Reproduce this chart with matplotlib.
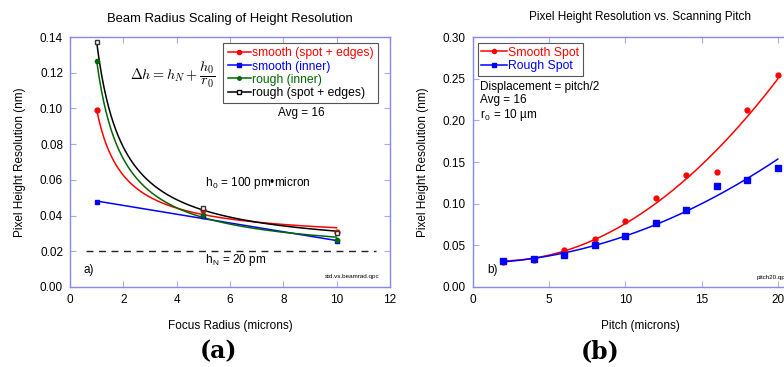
import numpy as np
import matplotlib
matplotlib.use("Agg")
import matplotlib.pyplot as plt

plt.rcParams['font.family'] = ['Liberation Sans', 'DejaVu Sans']
plt.rcParams['mathtext.fontset'] = 'cm'

# --- panel (a): beam radius scaling ---
radius = [1, 5, 10]
smooth_spot = [0.099, 0.043, 0.031]
smooth_inner = [0.0475, 0.0395, 0.0255]
rough_inner = [0.1265, 0.0405, 0.0265]
rough_spot = [0.137, 0.0445, 0.030]
h_noise = 0.02

# --- panel (b): scanning pitch ---
pitch = [2, 4, 6, 8, 10, 12, 14, 16, 18, 20]
smooth_pitch = [0.030, 0.033, 0.044, 0.058, 0.079, 0.107, 0.135, 0.138, 0.213, 0.254]
rough_pitch = [0.031, 0.034, 0.039, 0.050, 0.061, 0.077, 0.092, 0.121, 0.129, 0.143]

spine_col = '#8888ee'
tick_col = '#aaaaee'
FS = 8.5


def style_axes(ax):
    for s in ax.spines.values():
        s.set_color(spine_col)
        s.set_linewidth(1.0)
    ax.tick_params(direction='in', top=True, right=True, color=tick_col,
                   length=4, labelsize=FS, pad=5)


def inv_fit(x, y, xs):
    # curve of the form a + b/r, as in the original fit
    b, a = np.polyfit(1.0 / np.asarray(x), y, 1)
    return a + b / xs


fig = plt.figure(figsize=(7.84, 3.67), dpi=100)

# ---------------- (a) ----------------
ax1 = fig.add_axes([0.0893, 0.218, 0.408, 0.681])
style_axes(ax1)
xs = np.linspace(1, 10, 200)

ax1.axhline(h_noise, xmin=0.05, xmax=0.958, color='#222222', ls=(0, (5, 4)), lw=1)

ax1.plot(xs, inv_fit(radius, smooth_spot, xs), color='red', lw=1.1)
ax1.plot(xs, np.polyval(np.polyfit(radius, smooth_inner, 1), xs), color='blue', lw=1.1)
ax1.plot(xs, inv_fit(radius, rough_inner, xs), color='#006600', lw=1.1)
ax1.plot(xs, inv_fit(radius, rough_spot, xs), color='black', lw=1.1)

ax1.plot(radius, smooth_spot, 'o', color='red', ms=3.5, ls='none')
ax1.plot(radius, smooth_inner, 's', color='blue', ms=3.5, ls='none')
ax1.plot(radius, rough_inner, 'o', color='#006600', ms=3, ls='none')
ax1.plot(radius, rough_spot, 's', mfc='white', mec='#333333', ms=3.5, ls='none')

h1, = ax1.plot([], [], '-o', color='red', ms=3, lw=1.1)
h2, = ax1.plot([], [], '-s', color='blue', ms=3, lw=1.1)
h3, = ax1.plot([], [], '-o', color='#006600', ms=2.5, lw=1.1)
h4, = ax1.plot([], [], '-s', color='black', mfc='white', ms=3, lw=1.1)
leg = ax1.legend([h1, h2, h3, h4],
                 ['smooth (spot + edges)', 'smooth (inner)', 'rough (inner)', 'rough (spot + edges)'],
                 loc='upper right', bbox_to_anchor=(0.962, 0.976), fontsize=FS + 0.2,
                 handlelength=1.9, handletextpad=0.1, labelspacing=0.1, borderpad=0.35,
                 fancybox=False, framealpha=1, edgecolor='#555555', borderaxespad=0.0)
leg.get_frame().set_linewidth(0.8)
for t, c in zip(leg.get_texts(), ['red', 'blue', '#006600', 'black']):
    t.set_color(c)

ax1.text(2.25, 0.1187, r'$\Delta h = h_N + \dfrac{h_0}{r_0}$', fontsize=10.3, va='center')
ax1.text(7.8, 0.0975, 'Avg = 16', fontsize=FS, va='center')
ax1.text(5.06, 0.0585, r'h$_{\mathregular{0}}$ = 100 pm•micron', fontsize=FS, va='center')
ax1.text(5.06, 0.0150, r'h$_{\mathregular{N}}$ = 20 pm', fontsize=FS, va='center')
ax1.text(0.52, 0.0095, 'a)', fontsize=FS, va='center')
ax1.text(11.6, 0.0056, 'std.vs.beamrad.qpc', fontsize=4.5, ha='right', va='center')

ax1.set_xlim(0, 12)
ax1.set_ylim(0, 0.14)
ax1.set_xticks(np.arange(0, 13, 2))
ax1.set_yticks(np.arange(0, 0.141, 0.02))
ax1.yaxis.set_major_formatter(matplotlib.ticker.FormatStrFormatter('%.2f'))
ax1.set_title('Beam Radius Scaling of Height Resolution', fontsize=9.4, pad=11)
ax1.set_xlabel('Focus Radius (microns)', fontsize=FS, labelpad=10)
ax1.set_ylabel('Pixel Height Resolution (nm)', fontsize=FS, labelpad=10)

# ---------------- (b) ----------------
ax2 = fig.add_axes([0.603, 0.218, 0.428, 0.681])
style_axes(ax2)
ps = np.linspace(2, 20, 200)
ax2.plot(ps, np.polyval(np.polyfit(pitch, smooth_pitch, 2), ps), color='red', lw=1.1)
ax2.plot(ps, np.polyval(np.polyfit(pitch, rough_pitch, 2, w=1.0 / np.array(rough_pitch)), ps),
         color='blue', lw=1.1)
ax2.plot(pitch, smooth_pitch, 'o', color='red', ms=3.5, ls='none')
ax2.plot(pitch, rough_pitch, 's', color='blue', ms=4.2, ls='none')

g1, = ax2.plot([], [], '-o', color='red', ms=3, lw=1.1)
g2, = ax2.plot([], [], '-s', color='blue', ms=3, lw=1.1)
leg2 = ax2.legend([g1, g2], ['Smooth Spot', 'Rough Spot'], loc='upper left',
                  bbox_to_anchor=(0.015, 0.976), fontsize=FS + 0.3, handlelength=2.1,
                  handletextpad=0.1, labelspacing=0.1, borderpad=0.3, fancybox=False,
                  framealpha=1, edgecolor='#555555', borderaxespad=0.0)
leg2.get_frame().set_linewidth(0.8)
for t, c in zip(leg2.get_texts(), ['red', 'blue']):
    t.set_color(c)

ax2.text(0.46, 0.240, 'Displacement = pitch/2', fontsize=FS, va='center')
ax2.text(0.46, 0.2244, 'Avg = 16', fontsize=FS, va='center')
ax2.text(0.46, 0.2064, r'r$_{\mathregular{0}}$ = 10 µm', fontsize=FS, va='center')
ax2.text(0.92, 0.0204, 'b)', fontsize=FS, va='center')
ax2.text(18.6, 0.011, 'pitch20.qpc', fontsize=4.5, va='center')

ax2.set_xlim(0, 22)
ax2.set_ylim(0, 0.30)
ax2.set_xticks(np.arange(0, 21, 5))
ax2.set_yticks(np.arange(0, 0.301, 0.05))
ax2.yaxis.set_major_formatter(matplotlib.ticker.FormatStrFormatter('%.2f'))
ax2.set_xlabel('Pitch (microns)', fontsize=FS, labelpad=10)
ax2.set_ylabel('Pixel Height Resolution (nm)', fontsize=FS, labelpad=10)
fig.text(0.816, 0.953, 'Pixel Height Resolution vs. Scanning Pitch', fontsize=8.5,
         ha='center', va='center')

fig.text(0.279, 0.042, '(a)', fontsize=17, fontweight='bold', family='DejaVu Serif',
         ha='center', va='center')
fig.text(0.765, 0.042, '(b)', fontsize=17, fontweight='bold', family='DejaVu Serif',
         ha='center', va='center')

fig.savefig('out.png', dpi=100)
